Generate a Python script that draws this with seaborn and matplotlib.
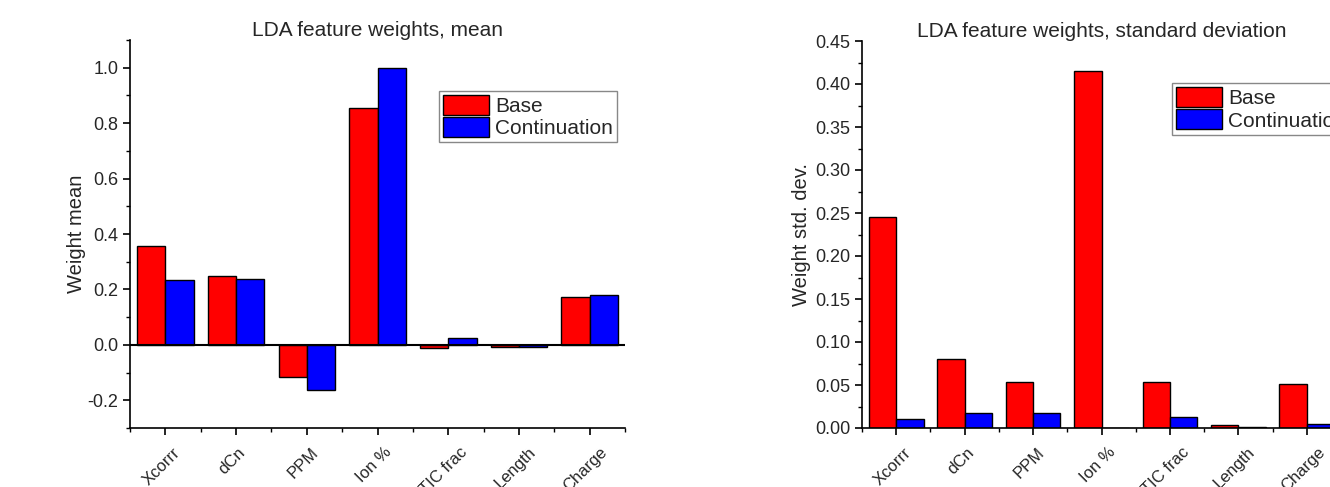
import seaborn as sns
import matplotlib.pyplot as plt
import matplotlib.ticker as mticker
import matplotlib.transforms as mtransforms
import pandas as pd
import numpy as np

# data
features = ['Xcorrr', 'dCn', 'PPM', 'Ion %', 'TIC frac', 'Length', 'Charge']
mean_base = [0.357, 0.250, -0.115, 0.854, -0.011, -0.007, 0.174]
mean_cont = [0.233, 0.236, -0.163, 1.000, 0.025, -0.006, 0.180]
std_base = [0.245, 0.080, 0.054, 0.415, 0.053, 0.003, 0.051]
std_cont = [0.011, 0.017, 0.017, 0.0, 0.013, 0.0012, 0.0043]
series = ['Base', 'Continuation']

sns.set_style('ticks')
plt.rcParams['font.family'] = ['Liberation Sans', 'DejaVu Sans']
plt.rcParams['axes.unicode_minus'] = False

palette = {'Base': '#ff0000', 'Continuation': '#0000ff'}

df_mean = pd.DataFrame({
    'feature': features * 2,
    'series': ['Base'] * 7 + ['Continuation'] * 7,
    'value': mean_base + mean_cont,
})
df_std = pd.DataFrame({
    'feature': features * 2,
    'series': ['Base'] * 7 + ['Continuation'] * 7,
    'value': std_base + std_cont,
})

fig = plt.figure(figsize=(13.3, 4.87), dpi=100)
ax1 = fig.add_axes([130 / 1330, 1 - 428 / 487, 495 / 1330, 388 / 487])
ax2 = fig.add_axes([862 / 1330, 1 - 428 / 487, 479 / 1330, 387 / 487])

legend_kw = dict(fontsize=15, frameon=True, fancybox=False, edgecolor='#888888',
                 framealpha=1, handlelength=2.2, handleheight=1.1,
                 handletextpad=0.3, labelspacing=0.05, borderpad=0.2,
                 borderaxespad=0)


def style_axes(ax):
    for s in ['top', 'right']:
        ax.spines[s].set_visible(False)
    for s in ['left', 'bottom']:
        ax.spines[s].set_linewidth(1.2)
        ax.spines[s].set_color('black')
    ax.set_xlim(-0.5, 6.5)
    ax.xaxis.set_minor_locator(mticker.FixedLocator(np.arange(-0.5, 7, 1)))
    ax.tick_params(which='major', direction='out', length=5, width=1.2,
                   labelsize=13, color='black')
    ax.tick_params(which='minor', direction='out', length=3, width=1.0,
                   color='black')
    ax.tick_params(axis='x', pad=7)
    ax.set_xticks(range(len(features)))
    ax.set_xticklabels(features, rotation=45, ha='center', va='top',
                       fontsize=12)
    shift = mtransforms.ScaledTranslation(-4 / 100, 0, fig.dpi_scale_trans)
    for lab in ax.get_xticklabels():
        lab.set_transform(lab.get_transform() + shift)
    ax.set_xlabel('')


# left: mean
sns.barplot(data=df_mean, x='feature', y='value', hue='series', order=features,
            hue_order=series, palette=palette, saturation=1, edgecolor='black',
            linewidth=1, width=0.8, ax=ax1)
ax1.axhline(0, color='black', lw=1.5, zorder=5)
style_axes(ax1)
ax1.set_ylim(-0.3, 1.1)
ax1.yaxis.set_major_locator(mticker.MultipleLocator(0.2))
ax1.yaxis.set_minor_locator(mticker.MultipleLocator(0.1))
ax1.yaxis.set_major_formatter(mticker.FormatStrFormatter('%.1f'))
ax1.set_ylabel('Weight mean', fontsize=14.5, labelpad=1)
ax1.set_title('LDA feature weights, mean', fontsize=15, pad=3)
ax1.legend(loc='upper right', bbox_to_anchor=(0.984, 0.869), **legend_kw)

# right: std
sns.barplot(data=df_std, x='feature', y='value', hue='series', order=features,
            hue_order=series, palette=palette, saturation=1, edgecolor='black',
            linewidth=1, width=0.8, ax=ax2)
style_axes(ax2)
ax2.set_ylim(0, 0.45)
ax2.yaxis.set_major_locator(mticker.MultipleLocator(0.05))
ax2.yaxis.set_minor_locator(mticker.MultipleLocator(0.025))
ax2.yaxis.set_major_formatter(mticker.FormatStrFormatter('%.2f'))
ax2.set_ylabel('Weight std. dev.', fontsize=14.5, labelpad=3)
ax2.set_title('LDA feature weights, standard deviation', fontsize=15, pad=3)
ax2.legend(loc='upper left', bbox_to_anchor=(0.647, 0.891), **legend_kw)

fig.savefig('out.png', dpi=100)
